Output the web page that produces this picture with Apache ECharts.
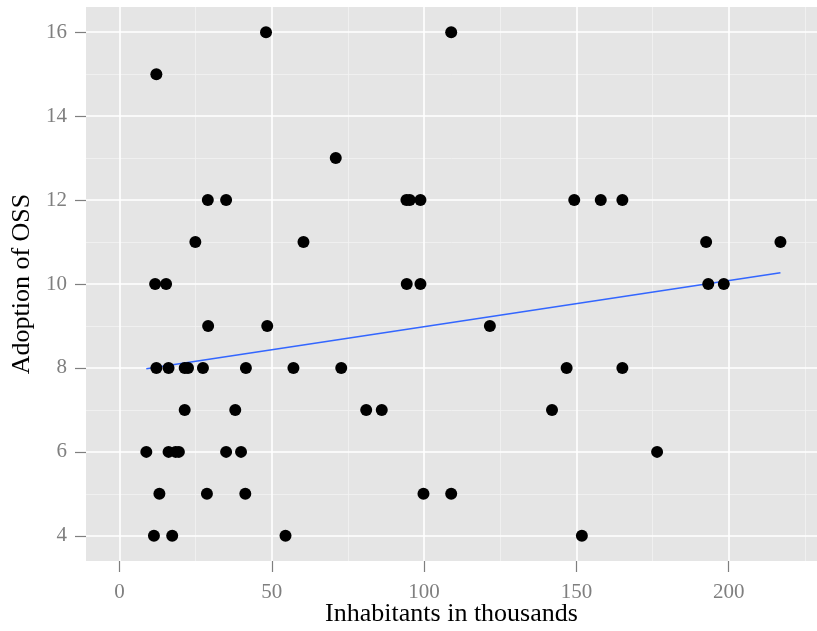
<!DOCTYPE html>
<html>
<head>
<meta charset="utf-8">
<script src="https://cdn.jsdelivr.net/npm/echarts@6/dist/echarts.min.js"></script>
<style>
  html, body { margin: 0; padding: 0; background: #fff; }
  #chart { width: 817px; height: 631px; }
</style>
</head>
<body>
<div id="chart"></div>
<script>
// inhabitants (thousands) and OSS adoption
const inhabitants = [
  48.1, 108.9,
  12.1,
  71.0,
  29.0, 35.0, 94.2, 95.3, 98.8, 149.3, 158.0, 165.1,
  24.9, 60.4, 192.6, 217.0,
  11.7, 15.3, 94.3, 98.8, 193.3, 198.4,
  29.1, 48.5, 121.6,
  12.1, 16.1, 21.4, 22.5, 27.4, 41.5, 57.1, 72.8, 146.8, 165.1,
  21.4, 38.0, 81.0, 86.1, 142.0,
  8.8, 16.1, 18.4, 19.5, 35.0, 39.9, 176.5,
  13.1, 28.7, 41.3, 99.8, 108.9,
  11.3, 17.3, 54.5, 151.8
];
const adoption = [
  16, 16,
  15,
  13,
  12, 12, 12, 12, 12, 12, 12, 12,
  11, 11, 11, 11,
  10, 10, 10, 10, 10, 10,
  9, 9, 9,
  8, 8, 8, 8, 8, 8, 8, 8, 8, 8,
  7, 7, 7, 7, 7,
  6, 6, 6, 6, 6, 6, 6,
  5, 5, 5, 5, 5,
  4, 4, 4, 4
];
// fitted line ends
const fitX = [8.8, 217.0];
const fitY = [7.98, 10.27];

const xTicks = [0, 50, 100, 150, 200];
const xMinor = [25, 75, 125, 175, 225];
const yTicks = [4, 6, 8, 10, 12, 14, 16];
const yMinor = [5, 7, 9, 11, 13, 15];

const chart = echarts.init(document.getElementById('chart'));

const points = inhabitants.map((x, i) => [x, adoption[i]]);
const fit = fitX.map((x, i) => [x, fitY[i]]);

const minor = { color: '#f2f2f2', width: 0.8, type: 'solid' };
const major = { color: '#ffffff', width: 1.6, type: 'solid' };
const gridLines = [];
xMinor.forEach(v => gridLines.push({ xAxis: v, lineStyle: minor }));
yMinor.forEach(v => gridLines.push({ yAxis: v, lineStyle: minor }));
xTicks.forEach(v => gridLines.push({ xAxis: v, lineStyle: major }));
yTicks.forEach(v => gridLines.push({ yAxis: v, lineStyle: major }));

const font = '"Liberation Serif", "DejaVu Serif", serif';

let option = {
  animation: false,
  textStyle: { fontFamily: font },
  grid: {
    left: 86, right: 0, top: 7, bottom: 70,
    outerBoundsMode: 'none',
    containLabel: false,
    show: true, backgroundColor: '#e5e5e5', borderWidth: 0
  },
  xAxis: {
    type: 'value',
    min: -11, max: 229,
    name: 'Inhabitants in thousands',
    nameLocation: 'middle',
    nameGap: 40,
    nameMoveOverlap: false,
    nameTextStyle: { color: '#000', fontSize: 26, fontFamily: font },
    axisLine: { show: false, onZero: false },
    axisTick: { show: true, length: 11, customValues: xTicks, lineStyle: { color: '#7f7f7f', width: 1.2 } },
    axisLabel: { customValues: xTicks, color: '#7f7f7f', fontSize: 21, margin: 21, fontFamily: font },
    splitLine: { show: false }
  },
  yAxis: {
    type: 'value',
    min: 3.4, max: 16.6,
    name: 'Adoption of OSS',
    nameLocation: 'middle',
    nameRotate: 90,
    nameGap: 51,
    nameTextStyle: { color: '#000', fontSize: 26, fontFamily: font },
    axisLine: { show: false, onZero: false },
    axisTick: { show: true, length: 11, customValues: yTicks, lineStyle: { color: '#7f7f7f', width: 1.2 } },
    axisLabel: { customValues: yTicks, color: '#7f7f7f', fontSize: 21, margin: 19, fontFamily: font },
    splitLine: { show: false }
  },
  series: [
    {
      type: 'scatter',
      data: [],
      z: 1,
      silent: true,
      markLine: {
        silent: true,
        z: 1,
        symbol: ['none', 'none'],
        label: { show: false },
        animation: false,
        data: gridLines
      }
    },
    {
      type: 'line',
      data: fit,
      z: 3,
      showSymbol: false,
      lineStyle: { color: '#3366ff', width: 1.6 }
    },
    {
      type: 'scatter',
      data: points,
      z: 4,
      symbolSize: 12,
      itemStyle: { color: '#000', opacity: 1 }
    }
  ]
};
chart.setOption(option);
</script>
</body>
</html>
